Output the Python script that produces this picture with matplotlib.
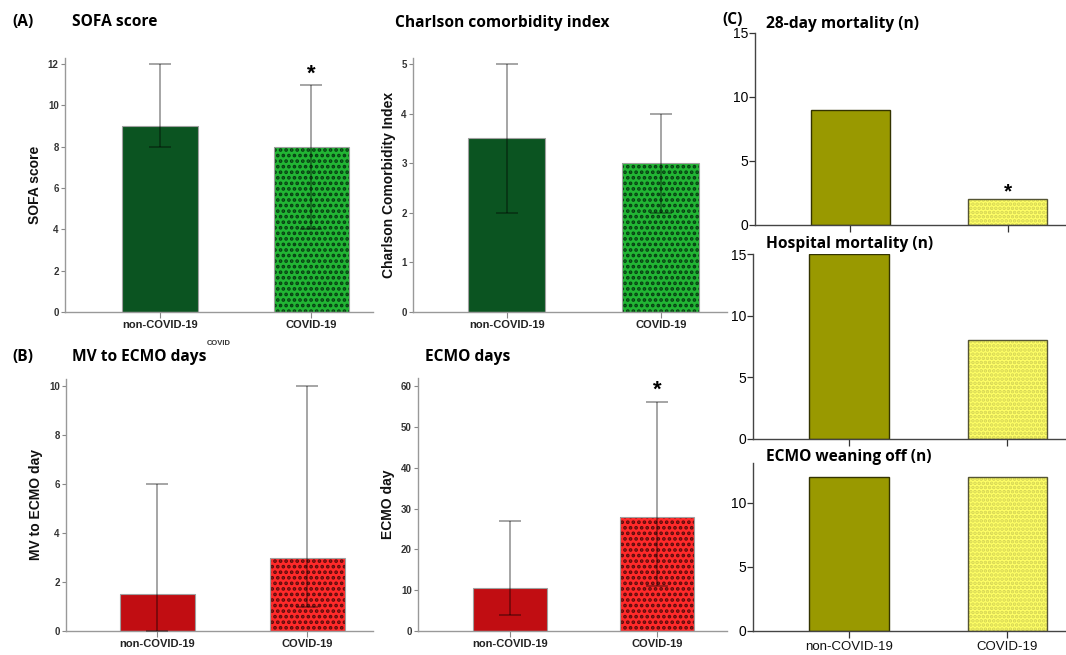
import matplotlib
matplotlib.use("Agg")
import matplotlib.pyplot as plt

plt.rcParams['font.family'] = ['Liberation Sans', 'DejaVu Sans']
plt.rcParams['hatch.linewidth'] = 1.8

groups = ['non-COVID-19', 'COVID-19']

# medians with interquartile ranges
sofa_median = [9, 8]
sofa_low = [8, 4]
sofa_high = [12, 11]

cci_median = [3.5, 3]
cci_low = [2, 2]
cci_high = [5, 4]

mv_median = [1.5, 3]
mv_low = [0, 1]
mv_high = [6, 10]

ecmo_median = [10.5, 28]
ecmo_low = [4, 11]
ecmo_high = [27, 56]

# counts
mort28 = [9, 2]
hosp_mort = [15, 8]
weaning = [12, 12]

W, H = 1066, 655
fig = plt.figure(figsize=(W / 100, H / 100), dpi=100)


def px_axes(left, right, top, bottom):
    return fig.add_axes([left / W, 1 - bottom / H, (right - left) / W, (bottom - top) / H])


def draw_bar(ax, x, h, face, hatch=None, hatch_color=None, edge='#a0a0a0', width=0.5, lw=0.8):
    if hatch:
        ax.bar(x, h, width=width, color=face, edgecolor=hatch_color, hatch=hatch, linewidth=0, zorder=2)
        ax.bar(x, h, width=width, fill=False, edgecolor=edge, linewidth=lw, zorder=3)
    else:
        ax.bar(x, h, width=width, color=face, edgecolor=edge, linewidth=lw, zorder=2)


def iqr_panel(ax, med, low, high, colors, ylabel, yticks, ylim, xlim):
    draw_bar(ax, 0, med[0], colors[0])
    draw_bar(ax, 1, med[1], colors[1], hatch='...', hatch_color=colors[2])
    for i in range(2):
        ax.errorbar(i, med[i], yerr=[[med[i] - low[i]], [high[i] - med[i]]],
                    fmt='none', ecolor='black', alpha=0.45, elinewidth=1.1,
                    capsize=8, capthick=1.1, zorder=4)
    ax.set_xlim(*xlim)
    ax.set_ylim(*ylim)
    ax.set_yticks(yticks)
    ax.set_xticks([0, 1])
    ax.set_xticklabels(groups, fontsize=8, fontweight='bold', color='#222222')
    ax.tick_params(axis='y', labelsize=7, length=3, width=0.8, color='#888888', pad=1.5)
    ax.tick_params(axis='x', length=4, width=0.8, color='#888888', pad=2)
    for lab in ax.get_yticklabels():
        lab.set_fontweight('bold')
        lab.set_color('#333333')
    for s in ['top', 'right']:
        ax.spines[s].set_visible(False)
    for s in ['left', 'bottom']:
        ax.spines[s].set_color('#999999')
        ax.spines[s].set_linewidth(1.0)
    ax.set_ylabel(ylabel, fontsize=10, fontweight='bold', color='#111111', labelpad=4)


def count_panel(ax, vals, ylim, yticks, xlim, show_xlabels):
    draw_bar(ax, 0, vals[0], '#999900', edge='#333300', lw=1.0)
    draw_bar(ax, 1, vals[1], '#ffff66', hatch='....', hatch_color='#d4d455', edge='#555533', lw=1.0)
    ax.set_xlim(*xlim)
    ax.set_ylim(*ylim)
    ax.set_yticks(yticks)
    ax.set_xticks([0, 1])
    if show_xlabels:
        ax.set_xticklabels(groups, fontsize=9.5, color='#111111')
    else:
        ax.set_xticklabels(['', ''])
    ax.tick_params(axis='y', labelsize=10, length=4, width=0.9, color='#333333', pad=1)
    ax.tick_params(axis='x', length=5, width=0.9, color='#333333', pad=2)
    for s in ['top', 'right']:
        ax.spines[s].set_visible(False)
    for s in ['left', 'bottom']:
        ax.spines[s].set_color('#444444')
        ax.spines[s].set_linewidth(1.0)


green = ('#0b5421', '#22b534', '#073d12')
red = ('#c10d12', '#ff2a2a', '#5a0c0c')

# (A) SOFA score
ax1 = px_axes(65, 373, 58, 312)
iqr_panel(ax1, sofa_median, sofa_low, sofa_high, green, 'SOFA score',
          range(0, 13, 2), (0, 12.3), (-0.627, 1.406))
ax1.text(1, 11.5, '*', ha='center', va='center', fontsize=16, fontweight='bold')
ax1.text(0.5, -0.11, 'COVID', transform=ax1.transAxes, ha='center', va='top',
         fontsize=5.5, fontweight='bold', color='#333333')

# Charlson comorbidity index
ax2 = px_axes(413, 727, 58, 312)
iqr_panel(ax2, cci_median, cci_low, cci_high, green, 'Charlson Comorbidity Index',
          range(0, 6), (0, 5.12), (-0.61, 1.43))

# (B) MV to ECMO days
ax3 = px_axes(66, 373, 379, 631)
iqr_panel(ax3, mv_median, mv_low, mv_high, red, 'MV to ECMO day',
          range(0, 11, 2), (0, 10.29), (-0.61, 1.44))

# ECMO days
ax4 = px_axes(418, 727, 378, 631)
iqr_panel(ax4, ecmo_median, ecmo_low, ecmo_high, red, 'ECMO day',
          range(0, 61, 10), (0, 62), (-0.626, 1.476))
ax4.text(1, 59, '*', ha='center', va='center', fontsize=16, fontweight='bold')

# (C) counts
ax5 = px_axes(755, 1066, 33, 225)
count_panel(ax5, mort28, (0, 15), [0, 5, 10, 15], (-0.606, 1.37), False)
ax5.text(1, 2.6, '*', ha='center', va='center', fontsize=15, fontweight='bold')

ax6 = px_axes(753, 1066, 254, 439)
count_panel(ax6, hosp_mort, (0, 15), [0, 5, 10, 15], (-0.606, 1.37), False)

ax7 = px_axes(753, 1066, 463, 631)
count_panel(ax7, weaning, (0, 13.1), [0, 5, 10], (-0.606, 1.37), True)

# panel titles
title_kw = dict(fontsize=11.2, fontweight='bold', family=['Open Sans', 'DejaVu Sans'], va='center')
fig.text(12 / W, 1 - 22 / H, '(A)', **title_kw)
fig.text(72 / W, 1 - 22 / H, 'SOFA score', **title_kw)
fig.text(395 / W, 1 - 23 / H, 'Charlson comorbidity index', **title_kw)
fig.text(722 / W, 1 - 20 / H, '(C)', **title_kw)
fig.text(766 / W, 1 - 24 / H, '28-day mortality (n)', **title_kw)
fig.text(12 / W, 1 - 357 / H, '(B)', **title_kw)
fig.text(72 / W, 1 - 357 / H, 'MV to ECMO days', **title_kw)
fig.text(425 / W, 1 - 357 / H, 'ECMO days', **title_kw)
fig.text(766 / W, 1 - 244 / H, 'Hospital mortality (n)', **title_kw)
fig.text(766 / W, 1 - 457 / H, 'ECMO weaning off (n)', **title_kw)

fig.savefig('out.png', dpi=100)
